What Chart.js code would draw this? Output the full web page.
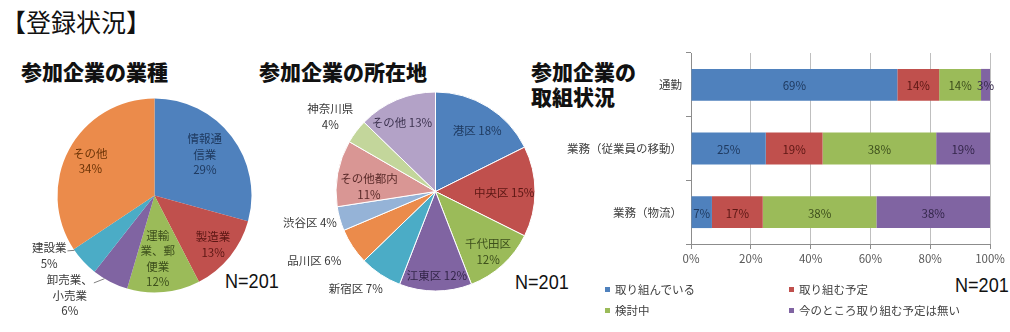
<!DOCTYPE html>
<html lang="ja">
<head>
<meta charset="utf-8">
<title>登録状況</title>
<script src="https://cdn.jsdelivr.net/npm/chart.js@4.4.1/dist/chart.umd.min.js"></script>
<style>
  body { margin: 0; width: 1010px; height: 332px; background: #fff; position: relative; overflow: hidden;
         font-family: "Noto Sans CJK JP", sans-serif; color: #222; }
  .abs { position: absolute; }
  .heading { left: 1px; top: 9px; font-size: 25px; line-height: 25px; color: #111; white-space: nowrap; }
  .title { font-size: 21px; line-height: 25px; font-weight: 900; color: #111; white-space: nowrap; }
  .n { font-family: "Liberation Sans", Arial, sans-serif; font-size: 21px; line-height: 21px; color: #111;
       transform: scaleX(0.86); transform-origin: left top; white-space: nowrap; }
  canvas { position: absolute; }
  .legend { font-size: 11.5px; color: #404040; white-space: nowrap; }
  .legend i { display: inline-block; width: 5px; height: 5px; margin-right: 5px; vertical-align: 2px; }
</style>
</head>
<body>
<div class="abs heading">【登録状況】</div>
<div class="abs title" style="left:21px;top:59px">参加企業の業種</div>
<div class="abs title" style="left:259px;top:59px">参加企業の所在地</div>
<div class="abs title" style="left:531px;top:59px">参加企業の<br>取組状況</div>
<div class="abs n" style="left:225px;top:270px">N=201</div>
<div class="abs n" style="left:515px;top:271px">N=201</div>
<div class="abs n" style="left:955px;top:274px">N=201</div>

<div style="position:absolute;left:0;top:90px;width:260px;height:240px"><canvas id="pieIndustry"></canvas></div>
<div style="position:absolute;left:270px;top:80px;width:280px;height:240px"><canvas id="pieLocation"></canvas></div>
<div style="position:absolute;left:540px;top:40px;width:470px;height:240px"><canvas id="barStatus"></canvas></div>
<div id="legend"></div>

<script>
// 参加企業の業種 (%)
const industryNames = ['情報通信業', '製造業', '運輸業、郵便業', '卸売業、小売業', '建設業', 'その他'];
const industryShares = [29, 13, 12, 6, 5, 34];
const industryLines = [['情報通', '信業'], ['製造業'], ['運輸', '業、郵', '便業'], ['卸売業、', '小売業'], ['建設業'], ['その他']];

// 参加企業の所在地 (%)
const locationNames = ['港区', '中央区', '千代田区', '江東区', '新宿区', '品川区', '渋谷区', 'その他都内', '神奈川県', 'その他'];
const locationShares = [18, 15, 12, 12, 7, 6, 4, 11, 4, 13];

// 参加企業の取組状況 (%)
const statusCategories = ['通勤', '業務（従業員の移動）', '業務（物流）'];
const statusSeries = ['取り組んでいる', '取り組む予定', '検討中', '今のところ取り組む予定は無い'];
const doingNow = [69, 25, 7];
const planned = [14, 19, 17];
const considering = [14, 38, 38];
const noPlan = [3, 19, 38];
const percentTicks = [0, 20, 40, 60, 80, 100];

const BLUE = '#4f81bd', RED = '#c0504d', GREEN = '#9bbb59', PURPLE = '#8064a2', TEAL = '#4bacc6', ORANGE = '#eb8b4b';
const SMALL_FONT = '11.5px "Noto Sans CJK JP", sans-serif';
const OUTSIDE_INK = '#3a3a3a';

// label placement: r = fraction of radius, turn = degrees past the slice middle
const pieLabels = {
  id: 'pieLabels',
  afterDatasetsDraw(chart, args, opts) {
    const ctx = chart.ctx;
    const arcs = chart.getDatasetMeta(0).data;
    ctx.save();
    ctx.font = SMALL_FONT;
    ctx.textAlign = 'center';
    ctx.textBaseline = 'middle';
    arcs.forEach((arc, i) => {
      const p = opts.place[i];
      const mid = (arc.startAngle + arc.endAngle) / 2;
      const a = mid + p.turn * Math.PI / 180;
      const x = arc.x + Math.cos(a) * arc.outerRadius * p.r;
      const y = arc.y + Math.sin(a) * arc.outerRadius * p.r;
      const lines = opts.lines[i];
      const top = y - (lines.length - 1) * opts.lineHeight / 2;
      ctx.fillStyle = p.r > 1 ? OUTSIDE_INK : opts.ink[i];
      lines.forEach((t, k) => ctx.fillText(t, x, top + k * opts.lineHeight));
      if (p.leader != null) {
        const w = ctx.measureText(lines[0]).width;
        const la = mid + p.leader * Math.PI / 180;
        ctx.strokeStyle = '#7f7f7f';
        ctx.lineWidth = 1;
        ctx.beginPath();
        ctx.moveTo(x + w / 2 + 1, top + 3);
        ctx.lineTo(arc.x + Math.cos(la) * arc.outerRadius, arc.y + Math.sin(la) * arc.outerRadius);
        ctx.stroke();
      }
    });
    ctx.restore();
  }
};

function pieOptions(padding, labelOpts) {
  return {
    responsive: true,
    maintainAspectRatio: false,
    animation: false,
    layout: { padding },
    plugins: { legend: { display: false }, tooltip: { enabled: false }, pieLabels: labelOpts }
  };
}

new Chart(document.getElementById('pieIndustry'), {
  type: 'pie',
  data: {
    labels: industryNames,
    datasets: [{ data: industryShares, backgroundColor: [BLUE, RED, GREEN, PURPLE, TEAL, ORANGE], borderWidth: 0 }]
  },
  options: pieOptions({ left: 57.5, top: 8.5, right: 8.5, bottom: 37.5 }, {
    lines: industryLines.map((l, i) => l.concat(industryShares[i] + '%')),
    lineHeight: 15.5,
    ink: ['#1f3a60', '#5c1714', '#3d4f1c', '#33264a', '#1c4a57', '#6b3306'],
    place: [
      { r: 0.67, turn: -2 },
      { r: 0.79, turn: 1 },
      { r: 0.65, turn: 2.5 },
      { r: 1.35, turn: 13, leader: 3.7 },
      { r: 1.25, turn: 13, leader: 8.3 },
      { r: 0.75, turn: 0 }
    ]
  }),
  plugins: [pieLabels]
});

const twoLine = ['千代田区', 'その他都内', '神奈川県'];
new Chart(document.getElementById('pieLocation'), {
  type: 'pie',
  data: {
    labels: locationNames,
    datasets: [{
      data: locationShares,
      backgroundColor: [BLUE, RED, GREEN, PURPLE, TEAL, ORANGE, '#95b3d7', '#d99694', '#c3d69b', '#b3a2c7'],
      borderColor: '#ffffff',
      borderWidth: 1
    }]
  },
  options: pieOptions({ left: 65.5, top: 11.5, right: 14.5, bottom: 28.5 }, {
    lines: locationNames.map((n, i) => twoLine.includes(n)
      ? [n, locationShares[i] + '%'] : [n + ' ' + locationShares[i] + '%']),
    lineHeight: 16,
    ink: ['#1f3a60', '#5c1714', '#3d4f1c', '#33264a', '#1c4a57', '#6b3306', '#2a3d5a', '#5a2a29', '#3d4f1c', '#3d3350'],
    place: [
      { r: 0.74, turn: 2.7 },
      { r: 0.69, turn: 1 },
      { r: 0.8, turn: 1 },
      { r: 0.85, turn: -1 },
      { r: 1.26, turn: 6 },
      { r: 1.4, turn: 4 },
      { r: 1.3, turn: 2 },
      { r: 0.67, turn: -6.7 },
      { r: 1.3, turn: -1.5 },
      { r: 0.77, turn: -3 }
    ]
  }),
  plugins: [pieLabels]
});

// percentage written in the middle of each bar segment
const barValues = {
  id: 'barValues',
  afterDatasetsDraw(chart, args, opts) {
    const ctx = chart.ctx;
    ctx.save();
    ctx.font = SMALL_FONT;
    ctx.textAlign = 'center';
    ctx.textBaseline = 'middle';
    chart.data.datasets.forEach((ds, d) => {
      chart.getDatasetMeta(d).data.forEach((bar, i) => {
        const right = Math.min(bar.x, chart.chartArea.right);
        ctx.fillStyle = opts.ink[d];
        ctx.fillText(ds.data[i] + '%', (bar.base + right) / 2, bar.y + 1);
      });
    });
    ctx.restore();
  }
};

const seriesColors = [BLUE, RED, GREEN, PURPLE];
const seriesData = [doingNow, planned, considering, noPlan];

new Chart(document.getElementById('barStatus'), {
  type: 'bar',
  data: {
    labels: statusCategories,
    datasets: statusSeries.map((name, k) => ({
      label: name,
      data: seriesData[k],
      backgroundColor: seriesColors[k],
      categoryPercentage: 1,
      barPercentage: 0.5
    }))
  },
  options: {
    indexAxis: 'y',
    responsive: true,
    maintainAspectRatio: false,
    animation: false,
    layout: { padding: { top: 13, right: 20, left: 0, bottom: 0 } },
    scales: {
      x: {
        stacked: true,
        min: 0,
        max: 100,
        afterBuildTicks: s => { s.ticks = percentTicks.map(v => ({ value: v })); },
        afterFit: s => { s.height = 36; },
        ticks: { callback: v => v + '%', color: '#595959', font: { family: 'Noto Sans CJK JP', size: 11.5 }, padding: 3, maxRotation: 0 },
        grid: { color: '#bfbfbf', tickLength: 5, tickColor: '#8c8c8c' },
        border: { color: '#8c8c8c' }
      },
      y: {
        stacked: true,
        afterFit: s => { s.width = 151; },
        ticks: { color: '#404040', font: { family: 'Noto Sans CJK JP', size: 11.5 }, padding: 4 },
        grid: { drawOnChartArea: false, tickLength: 5, color: '#8c8c8c' },
        border: { color: '#8c8c8c' }
      }
    },
    plugins: {
      legend: { display: false },
      tooltip: { enabled: false },
      barValues: { ink: ['#1f3a60', '#5c1714', '#3d4f1c', '#33264a'] }
    }
  },
  plugins: [barValues]
});

// legend in two columns under the bar chart
const legendSpots = [[605, 281], [789, 281], [605, 302], [789, 302]];
document.getElementById('legend').innerHTML = statusSeries.map((name, k) =>
  `<div class="abs legend" style="left:${legendSpots[k][0]}px;top:${legendSpots[k][1]}px">` +
  `<i style="background:${seriesColors[k]}"></i>${name}</div>`).join('');
</script>
</body>
</html>
